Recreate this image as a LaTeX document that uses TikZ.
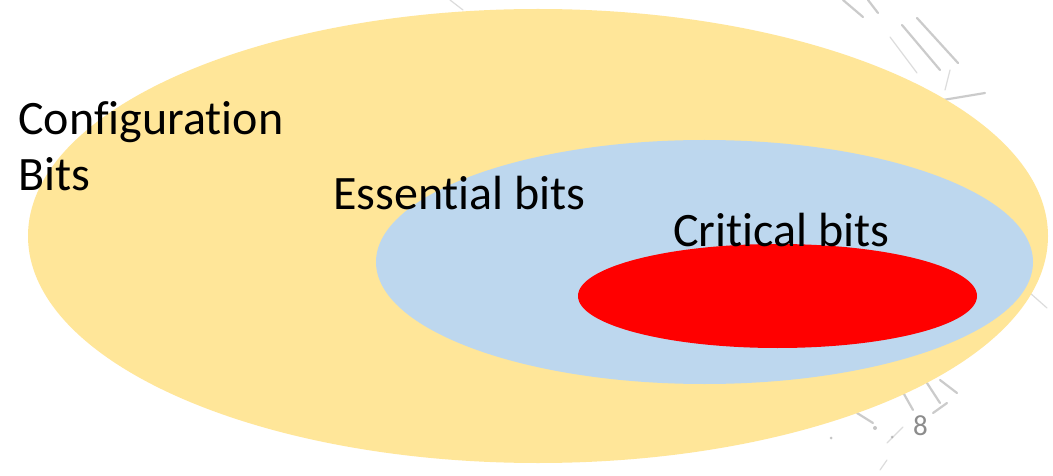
\documentclass[tikz,border=0pt]{standalone}
\usepackage{fontspec}
\setmainfont{Carlito}[Ligatures=CommonOff]
\usetikzlibrary{shapes.geometric}
\definecolor{setyellow}{HTML}{FFE699}
\definecolor{setblue}{HTML}{BDD7EE}
\definecolor{setred}{HTML}{FF0000}
\definecolor{sketchgray}{HTML}{8C8C8C}
\tikzset{
  setblob/.style={ellipse, draw=none, inner sep=0pt},
  setlabel/.style={inner sep=0pt, anchor=base west, text=black,
    font=\fontsize{48}{57}\selectfont},
  scribble/.style={draw=sketchgray, line width=2.2pt, line cap=round, opacity=0.45},
  faint/.style={draw=sketchgray, line width=1.2pt, line cap=round, opacity=0.3}
}
\begin{document}
\begin{tikzpicture}[x=1pt, y=-1pt]
  \useasboundingbox (0,0) rectangle (1053,476);
  \fill[white] (0,0) rectangle (1053,476);

  % pencil marks behind the sets
  \draw[scribble] (843,0) -- (863,17);
  \draw[scribble] (868,0) -- (878,13);
  \draw[scribble] (902,25) -- (940,70);
  \draw[scribble] (917,18) -- (958,63);
  \draw[faint] (890,37) -- (917,73);
  \draw[faint] (950,70) -- (945,90);
  \draw[scribble] (943,100) -- (985,93);
  \draw[faint] (450,0) -- (463,10);
  \draw[faint] (1030,293) -- (1047,308);
  \draw[scribble] (857,413) -- (873,423);
  \draw[scribble] (900,387) -- (913,410);
  \draw[scribble] (927,383) -- (940,403);
  \draw[scribble] (940,380) -- (957,393);
  \draw[scribble] (933,413) -- (947,403);
  \draw[faint] (887,443) -- (903,427);
  \draw[faint] (880,470) -- (887,460);
  \fill[sketchgray, opacity=0.5] (831,438) circle (1.5pt) (875,428) circle (2pt) (892,437) circle (1.5pt);

  % nested sets
  \node[setblob, fill=setyellow, minimum width=1020pt, minimum height=454pt] (config) at (538,236) {};
  \node[setblob, fill=setblue, minimum width=657pt, minimum height=244pt] (essential) at (704.5,262) {};
  \node[setblob, fill=setred, minimum width=399pt, minimum height=104pt] (critical) at (777.5,296) {};

  % labels (base anchor of a two-line node sits on its last line)
  \node[setlabel, align=left] (configlbl) at (18,191) {Configuration\\Bits};
  \node[setlabel] (essentiallbl) at (333,209) {Essential bits};
  \node[setlabel] (criticallbl) at (673,247) {Critical bits};

  % page number
  \node[inner sep=0pt, anchor=base west, text=sketchgray, font=\fontsize{29}{34}\selectfont] (pagenum) at (913,435) {8};
\end{tikzpicture}
\end{document}
